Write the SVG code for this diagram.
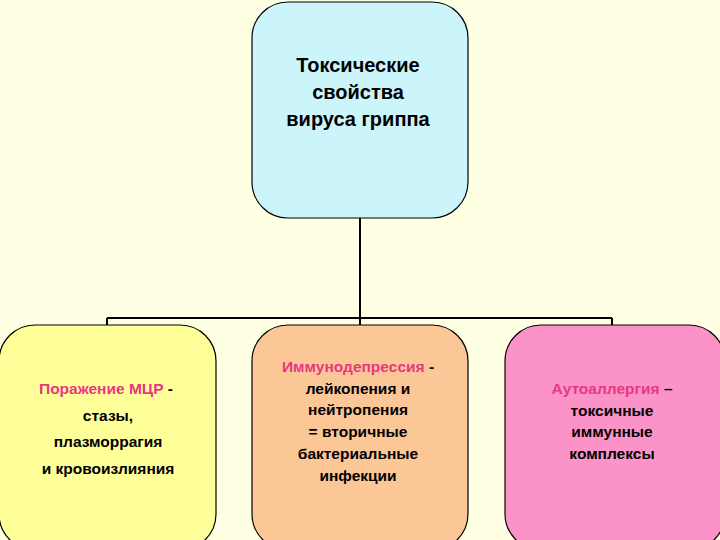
<svg xmlns="http://www.w3.org/2000/svg" width="720" height="540" viewBox="0 0 720 540">
<style>
.b{stroke:#000;stroke-width:1.2}
.t{font-family:"Liberation Sans",Arial,sans-serif;font-weight:bold;text-anchor:middle;fill:#000}
.s{font-size:15.5px}
.p{fill:#e8387f}
.c{fill:none;stroke:#000;stroke-width:2}
</style>
<rect width="720" height="540" fill="#ffffe3"/>
<g id="connectors">
<path class="c" d="M360 218V318M107 318H612M107 318V326M360 318V326M612 318V326"/>
</g>
<g id="top">
<rect class="b" x="252" y="2" width="216" height="216" rx="36" fill="#ccf5fb"/>
<text class="t" font-size="20"><tspan x="358" y="72">Токсические</tspan><tspan x="358" y="99">свойства</tspan><tspan x="358" y="126">вируса гриппа</tspan></text>
</g>
<g id="left">
<rect class="b" x="-1" y="325" width="217" height="225" rx="36" fill="#ffff99"/>
<text class="t s"><tspan x="106" y="394"><tspan class="p">Поражение МЦР</tspan> -</tspan><tspan x="108" y="421">стазы,</tspan><tspan x="108" y="447">плазморрагия</tspan><tspan x="108" y="474">и кровоизлияния</tspan></text>
</g>
<g id="middle">
<rect class="b" x="252" y="325" width="216" height="225" rx="36" fill="#fbc797"/>
<text class="t s"><tspan x="358" y="372"><tspan class="p">Иммунодепрессия</tspan> -</tspan><tspan x="358" y="394">лейкопения и</tspan><tspan x="358" y="415">нейтропения</tspan><tspan x="358" y="437">=  вторичные</tspan><tspan x="358" y="459">бактериальные</tspan><tspan x="358" y="481">инфекции</tspan></text>
</g>
<g id="right">
<rect class="b" x="505" y="325" width="220" height="225" rx="36" fill="#fc93c8"/>
<text class="t s"><tspan x="612" y="394"><tspan class="p">Аутоаллергия</tspan> –</tspan><tspan x="612" y="416">токсичные</tspan><tspan x="612" y="437">иммунные</tspan><tspan x="612" y="459">комплексы</tspan></text>
</g>
</svg>
